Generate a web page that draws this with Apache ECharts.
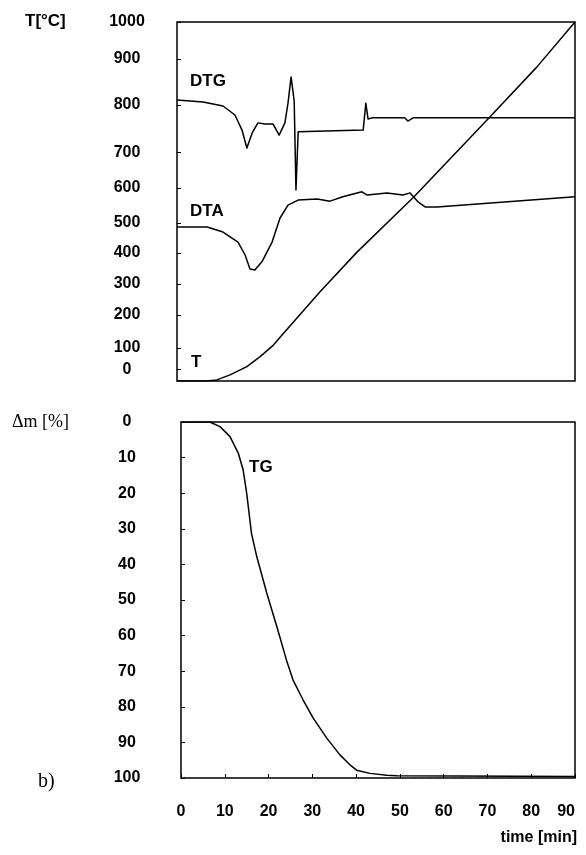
<!DOCTYPE html>
<html>
<head>
<meta charset="utf-8">
<script src="https://cdn.jsdelivr.net/npm/echarts@6/dist/echarts.min.js"></script>
<style>
  html, body { margin: 0; padding: 0; background: #fff; }
  #chart { width: 586px; height: 855px; }
</style>
</head>
<body>
<div id="chart"></div>
<script>
// ---- Thermal analysis data (time in minutes) ----
// Furnace temperature T [°C]
const tTime = [0, 6.7, 9.0, 12.0, 15.8, 18.8, 21.8, 24.4, 32.3, 40.7, 53.6, 57.2, 70.8, 81.4, 90];
const tTemp = [0, 0, 3, 17, 40, 68, 100, 137, 248, 359, 513, 560, 736, 875, 1000];

// DTG signal, drawn on the temperature scale
const dtgTime = [0, 5.9, 10.4, 13.1, 14.7, 15.8, 17.0, 18.3, 19.9, 21.7, 23.1, 24.4, 25.1, 25.8, 26.5, 26.9, 27.4, 42.1, 42.7, 43.2, 44.1, 51.5, 52.2, 53.4, 90];
const dtgSignal = [783, 777, 766, 741, 699, 649, 691, 719, 716, 716, 685, 719, 774, 847, 780, 532, 694, 699, 774, 730, 733, 733, 724, 733, 733];

// DTA signal, drawn on the temperature scale
const dtaTime = [0, 6.8, 10.4, 13.8, 15.4, 16.5, 17.6, 19.2, 21.5, 23.3, 25.1, 27.4, 31.7, 34.6, 37.5, 41.8, 43.0, 47.5, 51.1, 52.7, 54.5, 56.1, 58.8, 90];
const dtaSignal = [429, 429, 415, 387, 351, 312, 309, 332, 387, 454, 490, 504, 507, 501, 513, 527, 518, 524, 518, 524, 499, 485, 485, 513];

// TG mass loss Δm [%]
const tgTime = [0, 6.6, 8.9, 11.2, 13.1, 14.2, 15.0, 16.1, 17.3, 19.6, 21.9, 24.1, 25.6, 27.9, 30.2, 33.3, 36.3, 38.6, 40.1, 43.2, 47.0, 49.3, 90];
const tgLoss = [0, 0, 1.3, 4.1, 8.8, 13.5, 20.0, 31.3, 37.8, 48.1, 57.5, 66.9, 72.5, 78.1, 83.2, 88.8, 93.5, 96.3, 97.8, 98.7, 99.2, 99.4, 99.6];

// Axis tick labels
const tempTickLabels = ['1000', '900', '800', '700', '600', '500', '400', '300', '200', '100', '0'];
const massTickLabels = ['0', '10', '20', '30', '40', '50', '60', '70', '80', '90', '100'];
const timeTickLabels = ['0', '10', '20', '30', '40', '50', '60', '70', '80', '90'];

// ---- Layout ----
// Where each temperature label sits along the T scale (hand-set spacing of the figure)
const tempLabelAnchor = [1000, 897, 769, 636, 538, 440, 357, 270, 184, 92, 33];

const pairs = (xs, ys) => xs.map((x, i) => [x, ys[i]]);
const SANS = "'Liberation Sans', Arial, sans-serif";
const SERIF = "'Liberation Serif', 'Times New Roman', serif";

const lineStyle = { color: '#000', width: 1.5, join: 'round' };
const baseSeries = {
  type: 'line', symbol: 'none', silent: true, animation: false,
  lineStyle: lineStyle, itemStyle: { color: '#000' }
};

const chart = echarts.init(document.getElementById('chart'), null, { renderer: 'canvas' });

chart.setOption({
  backgroundColor: '#fff',
  animation: false,
  grid: [
    { left: 177, top: 22, width: 398, height: 359, show: true, borderColor: '#000', borderWidth: 1.5, backgroundColor: 'transparent' },
    { left: 181, top: 422, width: 394, height: 356, show: true, borderColor: '#000', borderWidth: 1.5, backgroundColor: 'transparent' }
  ],
  xAxis: [
    {
      gridIndex: 0, type: 'value', min: 0, max: 90, position: 'bottom',
      axisLine: { show: false, onZero: false }, axisTick: { show: false },
      axisLabel: { show: false }, splitLine: { show: false }
    },
    {
      gridIndex: 1, type: 'value', min: 0, max: 90, interval: 10, position: 'bottom',
      axisLine: { show: false, onZero: false },
      axisTick: { show: true, inside: true, length: 4, lineStyle: { color: '#000', width: 1 } },
      splitLine: { show: false },
      axisLabel: {
        margin: 26, color: '#000', fontSize: 16, fontWeight: 'bold', fontFamily: SANS,
        showMinLabel: true, showMaxLabel: true, alignMaxLabel: 'right',
        formatter: (v) => timeTickLabels[Math.round(v / 10)]
      }
    }
  ],
  yAxis: [
    {
      gridIndex: 0, type: 'value', min: 0, max: 1000,
      axisLine: { show: false }, splitLine: { show: false },
      axisTick: {
        show: true, inside: true, length: 4, lineStyle: { color: '#000', width: 1 },
        customValues: tempLabelAnchor
      },
      axisLabel: {
        customValues: tempLabelAnchor,
        margin: 50, align: 'center', color: '#000', fontSize: 16, fontWeight: 'bold', fontFamily: SANS,
        formatter: (v) => {
          const i = tempLabelAnchor.indexOf(v);
          return i >= 0 ? tempTickLabels[i] : '';
        }
      }
    },
    {
      gridIndex: 1, type: 'value', min: 0, max: 100, interval: 10, inverse: true,
      axisLine: { show: false }, splitLine: { show: false },
      axisTick: { show: true, inside: true, length: 4, lineStyle: { color: '#000', width: 1 } },
      axisLabel: {
        margin: 54, align: 'center', color: '#000', fontSize: 16, fontWeight: 'bold', fontFamily: SANS,
        showMinLabel: true, showMaxLabel: true,
        formatter: (v) => massTickLabels[Math.round(v / 10)]
      }
    }
  ],
  series: [
    Object.assign({}, baseSeries, { name: 'T', xAxisIndex: 0, yAxisIndex: 0, data: pairs(tTime, tTemp) }),
    Object.assign({}, baseSeries, { name: 'DTG', xAxisIndex: 0, yAxisIndex: 0, data: pairs(dtgTime, dtgSignal) }),
    Object.assign({}, baseSeries, { name: 'DTA', xAxisIndex: 0, yAxisIndex: 0, data: pairs(dtaTime, dtaSignal) }),
    Object.assign({}, baseSeries, { name: 'TG', xAxisIndex: 1, yAxisIndex: 1, data: pairs(tgTime, tgLoss) })
  ],
  graphic: [
    { type: 'text', left: 25, top: 13, style: { text: 'T[°C]', fill: '#000', font: 'bold 17px ' + SANS } },
    { type: 'text', left: 12, top: 413, style: { text: 'Δm [%]', fill: '#000', font: '18px ' + SERIF } },
    { type: 'text', left: 38, top: 772, style: { text: 'b)', fill: '#000', font: '20px ' + SERIF } },
    { type: 'text', right: 9, top: 830, style: { text: 'time [min]', fill: '#000', font: 'bold 16px ' + SANS } },
    { type: 'text', left: 190, top: 73, style: { text: 'DTG', fill: '#000', font: 'bold 17px ' + SANS } },
    { type: 'text', left: 190, top: 203, style: { text: 'DTA', fill: '#000', font: 'bold 17px ' + SANS } },
    { type: 'text', left: 191, top: 354, style: { text: 'T', fill: '#000', font: 'bold 17px ' + SANS } },
    { type: 'text', left: 249, top: 459, style: { text: 'TG', fill: '#000', font: 'bold 17px ' + SANS } }
  ]
});
</script>
</body>
</html>
